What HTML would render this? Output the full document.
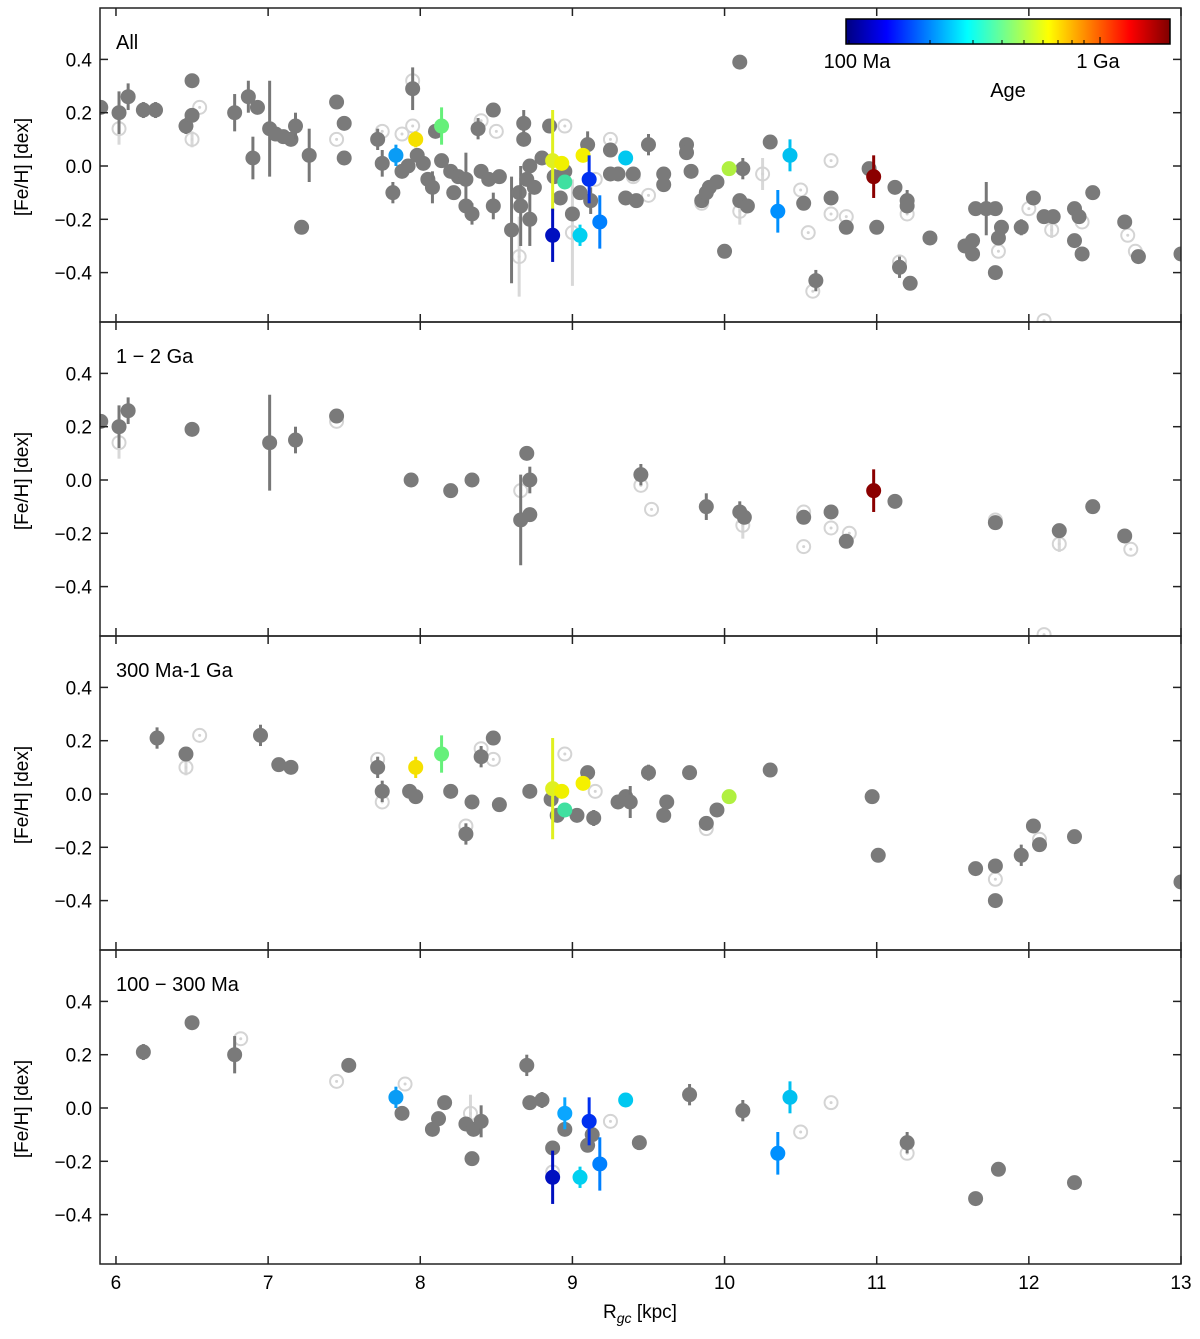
<!DOCTYPE html>
<html><head><meta charset="utf-8"><style>
body{margin:0;background:#fff;font-family:"Liberation Sans",sans-serif}
svg text{font-family:"Liberation Sans","DejaVu Sans",sans-serif}
</style></head><body>
<svg id="fig" width="1200" height="1334" viewBox="0 0 1200 1334" xmlns="http://www.w3.org/2000/svg">
<defs><linearGradient id="jet" x1="0" x2="1" y1="0" y2="0">
<stop offset="0" stop-color="#00007f"/><stop offset="0.125" stop-color="#0000ff"/><stop offset="0.375" stop-color="#00ffff"/><stop offset="0.625" stop-color="#ffff00"/><stop offset="0.875" stop-color="#ff0000"/><stop offset="1" stop-color="#7f0000"/></linearGradient></defs>
</svg>
<script>
// ---- data (x: Rgc kpc, y: [Fe/H] dex, e: error half-length, c: colour or null) ----
const panelLabels = ["All","1 \u2212 2 Ga","300 Ma-1 Ga","100 \u2212 300 Ma"];
const xTicks = [6,7,8,9,10,11,12,13];
const yTicks = [0.4,0.2,0.0,-0.2,-0.4];
const yTickLabels = ["0.4","0.2","0.0","\u22120.2","\u22120.4"];

const p1Gray = [[5.9,0.22,0],[6.02,0.20,0.08],[6.08,0.26,0.05],[6.18,0.21,0.03],[6.26,0.21,0.03],[6.46,0.15,0.03],[6.5,0.32,0],[6.5,0.19,0],[6.78,0.20,0.07],[6.87,0.26,0.06],[6.93,0.22,0],[6.9,0.03,0.08],[7.01,0.14,0.18],[7.05,0.12,0],[7.1,0.11,0],[7.15,0.10,0],[7.18,0.15,0.05],[7.22,-0.23,0],[7.27,0.04,0.1],[7.45,0.24,0.02],[7.5,0.16,0],[7.5,0.03,0],[7.72,0.10,0.04],[7.75,0.01,0.05],[7.82,-0.10,0.04],[7.95,0.29,0.08],[7.88,-0.02,0],[7.92,0.00,0],[7.98,0.04,0],[8.02,0.01,0],[8.05,-0.05,0],[8.1,0.13,0],[8.08,-0.08,0.06],[8.14,0.02,0],[8.2,-0.02,0],[8.22,-0.10,0],[8.25,-0.04,0],[8.3,-0.05,0.1],[8.3,-0.15,0],[8.34,-0.18,0.04],[8.38,0.14,0.04],[8.4,-0.02,0],[8.45,-0.05,0],[8.48,0.21,0],[8.48,-0.15,0.05],[8.52,-0.04,0],[8.6,-0.24,0.2],[8.65,-0.10,0],[8.66,-0.15,0.15],[8.68,0.16,0.05],[8.68,0.10,0],[8.7,-0.05,0],[8.72,-0.20,0.1],[8.72,0.00,0],[8.75,-0.08,0],[8.8,0.03,0],[8.85,0.15,0],[8.88,-0.04,0],[8.92,-0.12,0],[8.95,-0.02,0],[9.0,-0.18,0],[9.05,-0.10,0],[9.1,0.08,0.05],[9.12,-0.13,0.05],[9.25,0.06,0],[9.25,-0.03,0],[9.3,-0.03,0],[9.35,-0.12,0],[9.4,-0.03,0],[9.42,-0.13,0],[9.5,0.08,0.04],[9.6,-0.07,0],[9.6,-0.03,0],[9.75,0.08,0],[9.75,0.05,0],[9.78,-0.02,0],[9.85,-0.13,0],[9.88,-0.10,0.04],[9.9,-0.08,0],[9.95,-0.06,0],[10.0,-0.32,0],[10.1,0.39,0],[10.1,-0.13,0],[10.12,-0.01,0.04],[10.15,-0.15,0],[10.3,0.09,0],[10.52,-0.14,0],[10.6,-0.43,0.04],[10.7,-0.12,0],[10.8,-0.23,0],[10.95,-0.01,0],[11.0,-0.23,0],[11.12,-0.08,0],[11.15,-0.38,0.04],[11.2,-0.13,0.04],[11.2,-0.15,0],[11.22,-0.44,0],[11.35,-0.27,0],[11.58,-0.30,0],[11.63,-0.33,0],[11.63,-0.28,0],[11.65,-0.16,0],[11.72,-0.16,0.1],[11.78,-0.16,0],[11.78,-0.40,0],[11.8,-0.27,0],[11.82,-0.23,0],[11.95,-0.23,0.03],[12.03,-0.12,0],[12.1,-0.19,0],[12.16,-0.19,0],[12.3,-0.16,0],[12.3,-0.28,0],[12.33,-0.19,0],[12.35,-0.33,0],[12.42,-0.10,0],[12.63,-0.21,0],[12.72,-0.34,0],[13.0,-0.33,0]];
const p1Col = [[7.84,0.04,0.04,"#0a9cf5"],[7.97,0.10,0.03,"#f5e000"],[8.14,0.15,0.07,"#66f07a"],[8.87,0.02,0.19,"#e0f020"],[8.87,-0.26,0.1,"#0010c0"],[8.93,0.01,0,"#f0f000"],[8.95,-0.06,0,"#40e0a0"],[9.05,-0.26,0.04,"#00d0f0"],[9.07,0.04,0,"#f5f000"],[9.11,-0.05,0.09,"#0030f0"],[9.18,-0.21,0.1,"#0080ff"],[9.35,0.03,0,"#00c8f0"],[10.03,-0.01,0,"#b0f040"],[10.35,-0.17,0.08,"#0090ff"],[10.43,0.04,0.06,"#00c0f0"],[10.98,-0.04,0.08,"#8b0000"]];
const p1Ghost = [[6.02,0.14,0.06],[6.5,0.10,0.03],[6.55,0.22,0],[7.45,0.10,0],[7.75,0.13,0],[7.95,0.15,0],[7.88,0.12,0],[7.95,0.32,0],[8.4,0.17,0],[8.5,0.13,0],[8.65,-0.34,0.15],[8.95,0.15,0],[9.0,-0.25,0.2],[9.15,-0.05,0],[9.25,0.10,0],[9.4,-0.04,0],[9.5,-0.11,0],[9.85,-0.14,0],[10.1,-0.17,0.05],[10.25,-0.03,0.06],[10.5,-0.09,0],[10.55,-0.25,0],[10.7,0.02,0],[10.7,-0.18,0],[10.8,-0.19,0],[11.15,-0.36,0],[11.2,-0.18,0],[11.8,-0.32,0],[12.1,-0.58,0],[12.15,-0.24,0.03],[12.0,-0.16,0],[12.35,-0.21,0],[12.65,-0.26,0],[12.7,-0.32,0],[10.58,-0.47,0]];

const p2Gray = [[5.9,0.22,0],[6.02,0.2,0.08],[6.08,0.26,0.05],[6.5,0.19,0],[7.01,0.14,0.18],[7.18,0.15,0.05],[7.45,0.24,0.02],[7.94,0.0,0],[8.2,-0.04,0],[8.34,0.0,0],[8.66,-0.15,0.17],[8.7,0.1,0],[8.72,0.0,0.05],[8.72,-0.13,0],[9.45,0.02,0.04],[9.88,-0.1,0.05],[10.1,-0.12,0.04],[10.13,-0.14,0],[10.52,-0.14,0],[10.7,-0.12,0],[10.8,-0.23,0],[11.12,-0.08,0],[11.78,-0.16,0],[12.2,-0.19,0],[12.42,-0.1,0],[12.63,-0.21,0]];
const p2Col = [[10.98,-0.04,0.08,"#8b0000"]];
const p2Ghost = [[6.02,0.14,0.06],[7.45,0.22,0],[8.66,-0.04,0],[9.45,-0.02,0],[9.52,-0.11,0],[10.12,-0.17,0.05],[10.52,-0.25,0],[10.52,-0.12,0],[10.7,-0.18,0],[10.82,-0.2,0],[11.78,-0.15,0],[12.1,-0.58,0],[12.2,-0.24,0.03],[12.67,-0.26,0]];

const p3Gray = [[6.27,0.21,0.04],[6.46,0.15,0],[6.95,0.22,0.04],[7.07,0.11,0],[7.15,0.10,0],[7.72,0.10,0.04],[7.75,0.01,0.04],[7.93,0.01,0],[7.97,-0.01,0],[8.2,0.01,0],[8.3,-0.15,0.04],[8.34,-0.03,0],[8.4,0.14,0.04],[8.48,0.21,0],[8.52,-0.04,0],[8.72,0.01,0],[8.86,-0.02,0],[8.9,-0.08,0],[9.03,-0.08,0],[9.1,0.08,0],[9.14,-0.09,0.03],[9.3,-0.03,0],[9.35,-0.01,0],[9.38,-0.03,0.06],[9.5,0.08,0.03],[9.6,-0.08,0],[9.62,-0.03,0],[9.77,0.08,0],[9.88,-0.11,0],[9.95,-0.06,0],[10.3,0.09,0],[10.97,-0.01,0],[11.01,-0.23,0],[11.65,-0.28,0],[11.78,-0.27,0],[11.78,-0.4,0],[11.95,-0.23,0.04],[12.03,-0.12,0],[12.07,-0.19,0],[12.3,-0.16,0],[13.0,-0.33,0]];
const p3Col = [[7.97,0.10,0.04,"#f5e000"],[8.14,0.15,0.07,"#66f07a"],[8.87,0.02,0.19,"#e0f020"],[8.93,0.01,0,"#f0f000"],[8.95,-0.06,0,"#40e0a0"],[9.07,0.04,0,"#f5f000"],[10.03,-0.01,0,"#b0f040"]];
const p3Ghost = [[6.46,0.10,0.03],[6.55,0.22,0],[7.72,0.13,0],[7.75,-0.03,0],[8.3,-0.12,0],[8.4,0.17,0],[8.48,0.13,0],[8.95,0.15,0],[9.15,0.01,0],[9.88,-0.13,0],[11.78,-0.32,0],[12.07,-0.17,0]];

const p4Gray = [[6.18,0.21,0.03],[6.5,0.32,0],[6.78,0.2,0.07],[7.53,0.16,0],[7.88,-0.02,0],[8.08,-0.08,0],[8.12,-0.04,0],[8.16,0.02,0],[8.3,-0.06,0],[8.34,-0.19,0],[8.35,-0.08,0],[8.4,-0.05,0.06],[8.7,0.16,0.04],[8.72,0.02,0],[8.8,0.03,0.03],[8.87,-0.15,0],[8.95,-0.08,0],[9.1,-0.14,0],[9.13,-0.10,0],[9.44,-0.13,0],[9.77,0.05,0.04],[10.12,-0.01,0.04],[11.2,-0.13,0.04],[11.65,-0.34,0],[11.8,-0.23,0],[12.3,-0.28,0]];
const p4Col = [[7.84,0.04,0.04,"#0a9cf5"],[8.87,-0.26,0.1,"#0010c0"],[8.95,-0.02,0.06,"#0aa6ff"],[9.05,-0.26,0.04,"#00d0f0"],[9.11,-0.05,0.09,"#0030f0"],[9.18,-0.21,0.1,"#0080ff"],[9.35,0.03,0,"#00c8f0"],[10.35,-0.17,0.08,"#0090ff"],[10.43,0.04,0.06,"#00c0f0"]];
const p4Ghost = [[6.82,0.26,0],[7.45,0.10,0],[7.9,0.09,0],[8.33,-0.02,0.07],[8.87,-0.24,0],[9.25,-0.05,0],[10.5,-0.09,0],[10.7,0.02,0],[11.2,-0.17,0]];

const panels = [[p1Gray,p1Col,p1Ghost],[p2Gray,p2Col,p2Ghost],[p3Gray,p3Col,p3Ghost],[p4Gray,p4Col,p4Ghost]];

// ---- layout ----
const NS="http://www.w3.org/2000/svg";
const svg=document.getElementById('fig');
const L=100,R=1181,X0=5.895,X1=13.0;
const tops=[8,322,636,950],PH=314;
const zeroY=[166,480,794,1108],DPY=266.5;
function sx(v){return L+(v-X0)/(X1-X0)*(R-L);}
function sy(p,v){return zeroY[p]-v*DPY;}
function mk(tag,attrs,parent){const e=document.createElementNS(NS,tag);for(const k in attrs)e.setAttribute(k,attrs[k]);(parent||svg).appendChild(e);return e;}

panels.forEach((pd,p)=>{
  const g=mk('g',{'clip-path':'url(#c'+p+')'});
  
  
  const cp=mk('clipPath',{id:'c'+p});
  mk('rect',{x:L,y:tops[p],width:R-L,height:PH},cp);
  // ghosts
  pd[2].forEach(d=>{
    if(d[2]>0){const l=mk('line',{x1:sx(d[0]),x2:sx(d[0]),y1:sy(p,d[1]+d[2]),y2:sy(p,d[1]-d[2]),stroke:'#d8d8d8','stroke-width':3},g);
      }
    const c=mk('circle',{cx:sx(d[0]),cy:sy(p,d[1]),r:6.5,fill:'none',stroke:'#d4d4d4','stroke-width':2},g);
    
    mk('circle',{cx:sx(d[0]),cy:sy(p,d[1]),r:1.5,fill:'#d4d4d4'},g);
  });
  // gray
  pd[0].forEach(d=>{
    if(d[2]>0){const l=mk('line',{x1:sx(d[0]),x2:sx(d[0]),y1:sy(p,d[1]+d[2]),y2:sy(p,d[1]-d[2]),stroke:'#777','stroke-width':3},g);
      }
    const c=mk('circle',{cx:sx(d[0]),cy:sy(p,d[1]),r:7.5,fill:'#7a7a7a'},g);
    
  });
  // coloured
  pd[1].forEach(d=>{
    if(d[2]>0){const l=mk('line',{x1:sx(d[0]),x2:sx(d[0]),y1:sy(p,d[1]+d[2]),y2:sy(p,d[1]-d[2]),stroke:d[3],'stroke-width':3},g);
      }
    const c=mk('circle',{cx:sx(d[0]),cy:sy(p,d[1]),r:7.5,fill:d[3]},g);
    
  });
  // frame
  const fr=mk('rect',{x:L,y:tops[p],width:R-L,height:PH,fill:'none',stroke:'#222','stroke-width':1.5});
  
  // ticks
  xTicks.forEach(t=>{const x=sx(t);
    mk('line',{x1:x,x2:x,y1:tops[p],y2:tops[p]+8,stroke:'#222','stroke-width':1.5});
    mk('line',{x1:x,x2:x,y1:tops[p]+PH,y2:tops[p]+PH-8,stroke:'#222','stroke-width':1.5});});
  yTicks.forEach((t,i)=>{const y=sy(p,t);
    mk('line',{x1:L,x2:L+8,y1:y,y2:y,stroke:'#222','stroke-width':1.5});
    mk('line',{x1:R,x2:R-8,y1:y,y2:y,stroke:'#222','stroke-width':1.5});
    const tx=mk('text',{x:92,y:y+7,'text-anchor':'end','font-size':19,fill:'#000'});tx.textContent=yTickLabels[i];
    });
  const lb=mk('text',{x:116,y:tops[p]+41,'font-size':20,fill:'#000'});lb.textContent=panelLabels[p];
  
  const yt=mk('text',{x:0,y:0,'font-size':19,'text-anchor':'middle',transform:'translate(28,'+(tops[p]+PH/2+2)+') rotate(-90)'});
  yt.textContent='[Fe/H] [dex]';
  
});
xTicks.forEach(t=>{const tx=mk('text',{x:sx(t),y:1289,'text-anchor':'middle','font-size':19});tx.textContent=t;
  });
const xt=mk('text',{x:640,y:1318,'text-anchor':'middle','font-size':19});
xt.innerHTML='R<tspan font-size="14" dy="5" font-style="italic">gc</tspan><tspan dy="-5"> [kpc]</tspan>';


// colorbar
const cb=mk('rect',{x:846,y:19,width:324,height:25,fill:'url(#jet)',stroke:'#000','stroke-width':1.5});

[849,930,973,1002,1024,1043,1058,1072,1084].forEach(x=>mk('line',{x1:x,x2:x,y1:44,y2:40,stroke:'#000','stroke-width':1}));
mk('line',{x1:1100,x2:1100,y1:44,y2:37,stroke:'#000','stroke-width':1});
const c1=mk('text',{x:857,y:68,'text-anchor':'middle','font-size':20});c1.textContent='100 Ma';

const c2=mk('text',{x:1098,y:68,'text-anchor':'middle','font-size':20});c2.textContent='1 Ga';

const c3=mk('text',{x:1008,y:97,'text-anchor':'middle','font-size':20});c3.textContent='Age';

</script>
</body></html>
